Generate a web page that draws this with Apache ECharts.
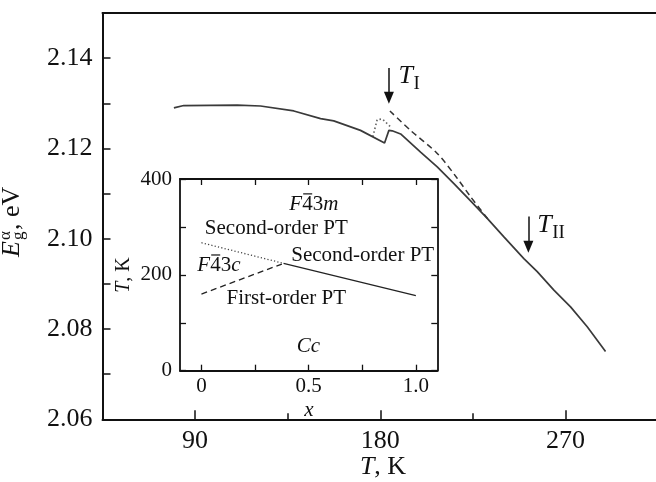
<!DOCTYPE html>
<html><head><meta charset="utf-8">
<script src="https://cdn.jsdelivr.net/npm/echarts@6/dist/echarts.min.js"></script>
<style>html,body{margin:0;padding:0;background:#fff}#c{width:656px;height:482px}</style>
</head><body><div id="c"></div>
<script>
// ---- main panel data (T in K, Eg in eV) ----
const mainT = [79.7, 84.5, 110.5, 121.8, 138.0, 151.0, 157.4, 170.4, 182.1, 184.2, 185.8, 189.9, 199.6, 207.7, 215.8, 223.9, 232.0, 240.1, 249.8, 256.3, 264.4, 272.5, 280.6, 289.5];
const mainE = [2.1290, 2.1295, 2.1296, 2.1294, 2.1283, 2.1266, 2.1261, 2.1240, 2.1212, 2.1240, 2.1239, 2.1232, 2.1192, 2.1159, 2.1122, 2.1084, 2.1045, 2.1004, 2.0956, 2.0927, 2.0886, 2.0849, 2.0805, 2.0750];
const dashT = [184.7, 194.7, 207.7, 217.4, 223.9, 232.8];
const dashE = [2.1283, 2.1240, 2.1189, 2.1134, 2.1093, 2.1041];
const dotT = [176.4, 178.5, 181.1, 185.0];
const dotE = [2.1226, 2.1264, 2.1265, 2.1248];
// transition arrows and their labels
const arrowT = [184.2, 252.0];
const arrowTop = [2.1378, 2.1049];
const arrowEnd = [2.1312, 2.0982];
const arrowLabelT = [188.9, 256.3];
const arrowLabelE = [2.1359, 2.1030];
const arrowLabelSub = ['I', 'II'];
// main axes ticks
const mainXMajor = [90, 180, 270];
const mainXMinor = [135, 225];
// ---- inset (phase diagram) ----
const insetDotX = [0, 0.383];
const insetDotT = [267, 224];
const insetDashX = [0, 0.375];
const insetDashT = [160, 222.6];
const insetSolidX = [0.383, 1.0];
const insetSolidT = [224, 156.5];
const insetXTicks = [0, 0.25, 0.5, 0.75, 1.0];
const insetXLabels = [0, 0.5, 1.0];
const insetLabelText = ['SG:m', 'Second-order PT', 'Second-order PT', 'SG:c', 'First-order PT', 'Cc'];
const insetLabelX = [0.41, 0.016, 0.419, -0.019, 0.117, 0.444];
const insetLabelT = [346, 297, 241, 218.5, 151, 50];

const FF = '"Liberation Serif","Times New Roman",serif';
const INK = '#111';
const chart = echarts.init(document.getElementById('c'));
const pairs = (a, b) => a.map((v, i) => [v, b[i]]);

const axLine = (w) => ({show: true, onZero: false, lineStyle: {color: INK, width: w}});

const option = {
  animation: false,
  backgroundColor: '#fff',
  grid: [
    {left: 102.5, right: -2, top: 13, bottom: 62.7, outerBoundsMode: 'none'},
    {left: 180, top: 179, width: 257.3, height: 191.7, outerBoundsMode: 'none'},
    {left: 102.5, right: -2, top: 13, bottom: 62.7, outerBoundsMode: 'none'}
  ],
  xAxis: [
    {gridIndex: 0, type: 'value', min: 45, max: 315, interval: 45, position: 'bottom',
     axisLine: axLine(2),
     axisTick: {show: true, inside: true, length: 9, customValues: mainXMajor, lineStyle: {color: INK, width: 1.5}},
     axisLabel: {show: true, customValues: mainXMajor, margin: 9, color: INK, fontSize: 26, fontFamily: FF},
     splitLine: {show: false}},
    {gridIndex: 0, type: 'value', min: 45, max: 315, position: 'top',
     axisLine: axLine(2), axisTick: {show: false}, axisLabel: {show: false}, splitLine: {show: false}},
    {gridIndex: 1, type: 'value', min: -0.1, max: 1.1, position: 'bottom',
     axisLine: axLine(1.8),
     axisTick: {show: true, inside: true, length: 6, customValues: insetXTicks, lineStyle: {color: INK, width: 1.3}},
     axisLabel: {show: true, customValues: insetXLabels, margin: 5, color: INK, fontSize: 21, fontFamily: FF,
                 formatter: v => (v === 0 ? '0' : Number(v).toFixed(1))},
     splitLine: {show: false}},
    {gridIndex: 1, type: 'value', min: -0.1, max: 1.1, position: 'top',
     axisLine: axLine(1.8),
     axisTick: {show: true, inside: true, length: 6, customValues: insetXTicks, lineStyle: {color: INK, width: 1.3}},
     axisLabel: {show: false}, splitLine: {show: false}},
    {gridIndex: 2, type: 'value', min: 45, max: 315, position: 'bottom',
     axisLine: {show: false, onZero: false},
     axisTick: {show: true, inside: true, length: 6, customValues: mainXMinor, lineStyle: {color: INK, width: 1.5}},
     axisLabel: {show: false}, splitLine: {show: false}}
  ],
  yAxis: [
    {gridIndex: 0, type: 'value', min: 2.06, max: 2.15, interval: 0.01, position: 'left',
     axisLine: axLine(2),
     axisTick: {show: true, inside: true, length: 8, lineStyle: {color: INK, width: 1.5}},
     axisLabel: {show: true, margin: 10, color: INK, fontSize: 26, fontFamily: FF,
                 formatter: v => { const k = Math.round(v * 100); return k % 2 === 0 ? (k / 100).toFixed(2) : ''; }},
     splitLine: {show: false}},
    {gridIndex: 1, type: 'value', min: 0, max: 400, interval: 100, position: 'left',
     axisLine: axLine(1.8),
     axisTick: {show: true, inside: true, length: 6, lineStyle: {color: INK, width: 1.3}},
     axisLabel: {show: true, margin: 8, color: INK, fontSize: 21, fontFamily: FF,
                 formatter: v => (v % 200 === 0 ? String(v) : '')},
     splitLine: {show: false}},
    {gridIndex: 1, type: 'value', min: 0, max: 400, interval: 100, position: 'right',
     axisLine: axLine(1.8),
     axisTick: {show: true, inside: true, length: 6, lineStyle: {color: INK, width: 1.3}},
     axisLabel: {show: false}, splitLine: {show: false}},
    {gridIndex: 2, type: 'value', min: 0, max: 1, show: false}
  ],
  series: [
    {type: 'line', xAxisIndex: 0, yAxisIndex: 0, data: pairs(mainT, mainE), showSymbol: false, silent: true, z: 4,
     lineStyle: {color: '#3a3a3a', width: 1.7}},
    {type: 'line', xAxisIndex: 0, yAxisIndex: 0, data: pairs(dashT, dashE), showSymbol: false, silent: true, z: 3,
     smooth: 0.3,
     lineStyle: {color: '#333', width: 1.5, type: [6, 4]},
     markLine: {silent: true, symbol: ['none', 'triangle'], symbolSize: [10, 12], animation: false,
                lineStyle: {color: INK, width: 1.5, type: 'solid'}, label: {show: false}, emphasis: {disabled: true},
                data: arrowT.map((t, i) => [{coord: [t, arrowTop[i]]}, {coord: [t, arrowEnd[i]]}])}},
    {type: 'line', xAxisIndex: 0, yAxisIndex: 0, data: pairs(dotT, dotE), showSymbol: false, silent: true, z: 3,
     lineStyle: {color: '#666', width: 1.7, type: [1.5, 2.5]}},
    {type: 'line', xAxisIndex: 2, yAxisIndex: 1, data: pairs(insetDotX, insetDotT), showSymbol: false, silent: true,
     lineStyle: {color: '#444', width: 1.3, type: [1.2, 2.2]}},
    {type: 'line', xAxisIndex: 2, yAxisIndex: 1, data: pairs(insetDashX, insetDashT), showSymbol: false, silent: true,
     lineStyle: {color: '#222', width: 1.3, type: [6, 4]}},
    {type: 'line', xAxisIndex: 2, yAxisIndex: 1, data: pairs(insetSolidX, insetSolidT), showSymbol: false, silent: true,
     lineStyle: {color: '#222', width: 1.3}}
  ]
};
chart.setOption(option);

// ---- annotations ----
const cv = document.createElement('canvas').getContext('2d');
const tw = (t, size, style) => { cv.font = `${style || 'normal'} ${size}px ${FF}`; return cv.measureText(t).width; };
const txt = (x, y, text, size, style, extra) => Object.assign({
  type: 'text', x, y, silent: true,
  style: {text, fontSize: size, fontStyle: style || 'normal', fontFamily: FF, fill: INK, align: 'left', verticalAlign: 'middle'}
}, extra || {});

const graphics = [];
// y-axis title  E_g^alpha, eV (rotated)
(function () {
  const wE = tw('E', 26, 'italic');
  graphics.push({type: 'group', x: 20, y: 217, rotation: Math.PI / 2, silent: true, children: [
    txt(-40, -7.5, 'E', 26, 'italic'),
    txt(-40 + wE + 1, -14, 'α', 17),
    txt(-40 + wE + 1, -1, 'g', 17),
    txt(-40 + wE + 11, -7.5, ', eV', 26)
  ]});
})();
// x-axis title  T, K
(function () {
  const wT = tw('T', 26, 'italic');
  const wR = tw(', K', 26);
  const x0 = 383 - (wT + wR) / 2;
  graphics.push({type: 'group', x: x0, y: 467, silent: true, children: [
    txt(0, 0, 'T', 26, 'italic'), txt(wT, 0, ', K', 26)
  ]});
})();
// inset axis titles
graphics.push(txt(309, 410, 'x', 21, 'italic', {style: {text: 'x', fontSize: 21, fontStyle: 'italic', fontFamily: FF, fill: INK, align: 'center', verticalAlign: 'middle'}}));
(function () {
  const wT = tw('T', 20, 'italic');
  const wR = tw(', K', 20);
  const w = wT + wR;
  graphics.push({type: 'group', x: 124, y: 275, rotation: Math.PI / 2, silent: true, children: [
    txt(-w / 2, 0, 'T', 20, 'italic'), txt(-w / 2 + wT, 0, ', K', 20)
  ]});
})();
// T_I, T_II labels at data positions
arrowLabelT.forEach((t, i) => {
  const p = chart.convertToPixel({xAxisIndex: 0, yAxisIndex: 0}, [t, arrowLabelE[i]]);
  const wT = tw('T', 26, 'italic');
  graphics.push({type: 'group', x: p[0], y: p[1], silent: true, children: [
    txt(0, 0, 'T', 26, 'italic'),
    txt(wT + 0.5, 7.5, arrowLabelSub[i], 19)
  ]});
});
// inset phase labels
insetLabelText.forEach((s, i) => {
  const p = chart.convertToPixel({xAxisIndex: 2, yAxisIndex: 1}, [insetLabelX[i], insetLabelT[i]]);
  if (s.indexOf('SG:') === 0) {
    const last = s.slice(3);
    const wF = tw('F', 21, 'italic'), w4 = tw('4', 21), w3 = tw('3', 21);
    graphics.push({type: 'group', x: p[0], y: p[1], silent: true, children: [
      txt(0, 0, 'F', 21, 'italic'),
      txt(wF, 0, '4', 21),
      {type: 'line', silent: true, shape: {x1: wF + 1, y1: -11, x2: wF + w4 - 0.5, y2: -11}, style: {stroke: INK, lineWidth: 1.2}},
      txt(wF + w4, 0, '3', 21),
      txt(wF + w4 + w3, 0, last, 21, 'italic')
    ]});
  } else if (s === 'Cc') {
    graphics.push(txt(p[0], p[1], s, 21, 'italic'));
  } else {
    graphics.push(txt(p[0], p[1], s, 21));
  }
});
chart.setOption({graphic: graphics});
</script>
</body></html>
